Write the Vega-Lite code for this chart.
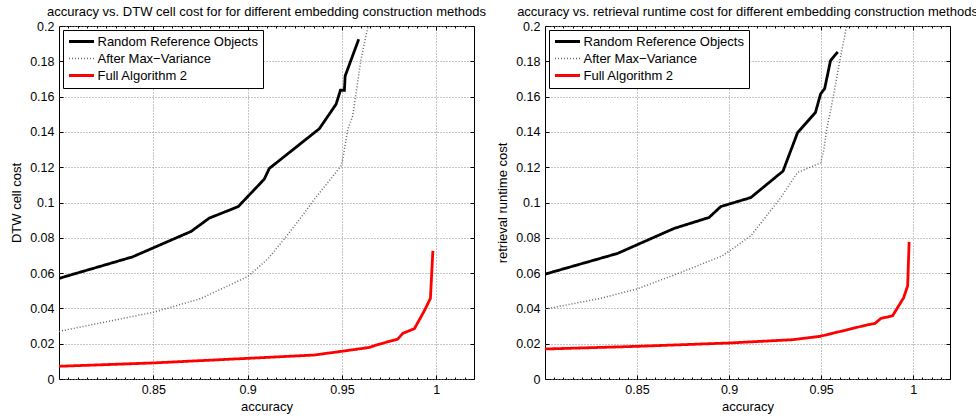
{
  "$schema": "https://vega.github.io/schema/vega-lite/v6.json",
  "padding": {"left": 10, "top": 5, "right": 0, "bottom": 0},
  "config": {
    "font": "Liberation Sans",
    "view": {"stroke": "black", "strokeWidth": 1},
    "title": {"fontSize": 13, "fontWeight": "normal", "color": "black", "offset": -1.5},
    "axis": {
      "labelFont": "Liberation Sans",
      "labelFontSize": 12.5,
      "labelColor": "black",
      "titleFontSize": 13,
      "titleFontWeight": "normal",
      "titleColor": "black",
      "tickColor": "black",
      "domain": false,
      "gridColor": "#8a8a8a",
      "gridDash": [1, 2],
      "gridWidth": 1,
      "gridOpacity": 1
    },
    "legend": {
      "orient": "top-left",
      "offset": 4,
      "strokeColor": "black",
      "fillColor": "white",
      "padding": 5,
      "labelFontSize": 13,
      "labelColor": "black",
      "labelLimit": 400,
      "symbolType": "stroke",
      "symbolSize": 625,
      "symbolOffset": 7,
      "labelOffset": 9.5,
      "rowPadding": 3
    }
  },
  "spacing": 71,
  "bounds": "flush",
  "resolve": {
    "scale": {"color": "independent", "strokeDash": "independent"},
    "legend": {"color": "independent", "strokeDash": "independent"}
  },
  "datasets": {
    "left": [
      {"series": "Random Reference Objects", "acc": 0.8, "cost": 0.057},
      {"series": "Random Reference Objects", "acc": 0.839, "cost": 0.0692},
      {"series": "Random Reference Objects", "acc": 0.87, "cost": 0.0836},
      {"series": "Random Reference Objects", "acc": 0.8796, "cost": 0.0911},
      {"series": "Random Reference Objects", "acc": 0.895, "cost": 0.0977},
      {"series": "Random Reference Objects", "acc": 0.9088, "cost": 0.1132},
      {"series": "Random Reference Objects", "acc": 0.9115, "cost": 0.1193},
      {"series": "Random Reference Objects", "acc": 0.938, "cost": 0.1418},
      {"series": "Random Reference Objects", "acc": 0.9469, "cost": 0.1557},
      {"series": "Random Reference Objects", "acc": 0.9492, "cost": 0.1636},
      {"series": "Random Reference Objects", "acc": 0.9513, "cost": 0.1636},
      {"series": "Random Reference Objects", "acc": 0.9517, "cost": 0.1717},
      {"series": "Random Reference Objects", "acc": 0.9589, "cost": 0.1925},
      {"series": "After Max−Variance", "acc": 0.8, "cost": 0.027},
      {"series": "After Max−Variance", "acc": 0.825, "cost": 0.0324},
      {"series": "After Max−Variance", "acc": 0.85, "cost": 0.0378},
      {"series": "After Max−Variance", "acc": 0.875, "cost": 0.0455},
      {"series": "After Max−Variance", "acc": 0.9, "cost": 0.058},
      {"series": "After Max−Variance", "acc": 0.9106, "cost": 0.0679},
      {"series": "After Max−Variance", "acc": 0.9194, "cost": 0.0793},
      {"series": "After Max−Variance", "acc": 0.9283, "cost": 0.0915},
      {"series": "After Max−Variance", "acc": 0.9354, "cost": 0.1019},
      {"series": "After Max−Variance", "acc": 0.9425, "cost": 0.1113},
      {"series": "After Max−Variance", "acc": 0.9495, "cost": 0.1207},
      {"series": "After Max−Variance", "acc": 0.9504, "cost": 0.1245},
      {"series": "After Max−Variance", "acc": 0.9531, "cost": 0.1415},
      {"series": "After Max−Variance", "acc": 0.9557, "cost": 0.149},
      {"series": "After Max−Variance", "acc": 0.958, "cost": 0.166},
      {"series": "After Max−Variance", "acc": 0.9601, "cost": 0.181},
      {"series": "After Max−Variance", "acc": 0.9645, "cost": 0.2035},
      {"series": "Full Algorithm 2", "acc": 0.8, "cost": 0.0072},
      {"series": "Full Algorithm 2", "acc": 0.85, "cost": 0.0091},
      {"series": "Full Algorithm 2", "acc": 0.9, "cost": 0.0117},
      {"series": "Full Algorithm 2", "acc": 0.9354, "cost": 0.0136},
      {"series": "Full Algorithm 2", "acc": 0.95, "cost": 0.0157},
      {"series": "Full Algorithm 2", "acc": 0.9646, "cost": 0.0179},
      {"series": "Full Algorithm 2", "acc": 0.968, "cost": 0.0192},
      {"series": "Full Algorithm 2", "acc": 0.9796, "cost": 0.0226},
      {"series": "Full Algorithm 2", "acc": 0.9823, "cost": 0.0259},
      {"series": "Full Algorithm 2", "acc": 0.9884, "cost": 0.0285},
      {"series": "Full Algorithm 2", "acc": 0.9937, "cost": 0.0387},
      {"series": "Full Algorithm 2", "acc": 0.9969, "cost": 0.0457},
      {"series": "Full Algorithm 2", "acc": 0.9982, "cost": 0.0726}
    ],
    "right": [
      {"series": "Random Reference Objects", "acc": 0.8, "cost": 0.0594},
      {"series": "Random Reference Objects", "acc": 0.8393, "cost": 0.0711},
      {"series": "Random Reference Objects", "acc": 0.8701, "cost": 0.0853},
      {"series": "Random Reference Objects", "acc": 0.8891, "cost": 0.0915},
      {"series": "Random Reference Objects", "acc": 0.8955, "cost": 0.0977},
      {"series": "Random Reference Objects", "acc": 0.9118, "cost": 0.1028},
      {"series": "Random Reference Objects", "acc": 0.9293, "cost": 0.1178},
      {"series": "Random Reference Objects", "acc": 0.9372, "cost": 0.1396},
      {"series": "Random Reference Objects", "acc": 0.9469, "cost": 0.151},
      {"series": "Random Reference Objects", "acc": 0.9497, "cost": 0.1615},
      {"series": "Random Reference Objects", "acc": 0.9519, "cost": 0.1645},
      {"series": "Random Reference Objects", "acc": 0.9551, "cost": 0.1804},
      {"series": "Random Reference Objects", "acc": 0.959, "cost": 0.1853},
      {"series": "After Max−Variance", "acc": 0.8, "cost": 0.0396},
      {"series": "After Max−Variance", "acc": 0.8303, "cost": 0.0457},
      {"series": "After Max−Variance", "acc": 0.85, "cost": 0.051},
      {"series": "After Max−Variance", "acc": 0.8701, "cost": 0.0589},
      {"series": "After Max−Variance", "acc": 0.8964, "cost": 0.0698},
      {"series": "After Max−Variance", "acc": 0.9118, "cost": 0.0811},
      {"series": "After Max−Variance", "acc": 0.9281, "cost": 0.1028},
      {"series": "After Max−Variance", "acc": 0.9372, "cost": 0.117},
      {"series": "After Max−Variance", "acc": 0.9498, "cost": 0.1225},
      {"series": "After Max−Variance", "acc": 0.9515, "cost": 0.13},
      {"series": "After Max−Variance", "acc": 0.953, "cost": 0.1415},
      {"series": "After Max−Variance", "acc": 0.9553, "cost": 0.1528},
      {"series": "After Max−Variance", "acc": 0.958, "cost": 0.168},
      {"series": "After Max−Variance", "acc": 0.9603, "cost": 0.1811},
      {"series": "After Max−Variance", "acc": 0.9645, "cost": 0.2035},
      {"series": "Full Algorithm 2", "acc": 0.8, "cost": 0.017},
      {"series": "Full Algorithm 2", "acc": 0.85, "cost": 0.0185},
      {"series": "Full Algorithm 2", "acc": 0.9, "cost": 0.0204},
      {"series": "Full Algorithm 2", "acc": 0.935, "cost": 0.0223},
      {"series": "Full Algorithm 2", "acc": 0.9495, "cost": 0.0242},
      {"series": "Full Algorithm 2", "acc": 0.9658, "cost": 0.0283},
      {"series": "Full Algorithm 2", "acc": 0.9739, "cost": 0.0304},
      {"series": "Full Algorithm 2", "acc": 0.9793, "cost": 0.0315},
      {"series": "Full Algorithm 2", "acc": 0.9824, "cost": 0.0343},
      {"series": "Full Algorithm 2", "acc": 0.9888, "cost": 0.0358},
      {"series": "Full Algorithm 2", "acc": 0.9948, "cost": 0.046},
      {"series": "Full Algorithm 2", "acc": 0.997, "cost": 0.0528},
      {"series": "Full Algorithm 2", "acc": 0.9978, "cost": 0.0777}
    ]
  },
  "hconcat": [
    {
      "title": "accuracy vs. DTW cell cost for for different embedding construction methods",
      "width": 415,
      "height": 353,
      "data": {"name": "left"},
      "resolve": {"axis": {"x": "independent", "y": "independent"}},
      "layer": [
        {
          "mark": {"type": "line", "clip": true},
          "encoding": {
            "x": {"field": "acc", "type": "quantitative", "scale": {"domain": [0.8, 1.02], "nice": false, "zero": false},
                  "axis": {"orient": "bottom", "values": [0.85, 0.9, 0.95, 1], "format": "~g", "title": "accuracy", "grid": true, "tickSize": -4, "labelPadding": 8, "titlePadding": 5}},
            "y": {"field": "cost", "type": "quantitative", "scale": {"domain": [0, 0.2], "nice": false},
                  "axis": {"orient": "left", "values": [0, 0.02, 0.04, 0.06, 0.08, 0.1, 0.12, 0.14, 0.16, 0.18, 0.2], "format": "~g", "title": "DTW cell cost", "grid": true, "tickSize": -4, "labelPadding": 9, "titlePadding": 6}},
            "color": {"field": "series", "type": "nominal",
                      "scale": {"domain": ["Random Reference Objects", "After Max−Variance", "Full Algorithm 2"], "range": ["#000000", "#666666", "#ff0000"]},
                      "legend": {"title": null, "symbolType": "stroke", "symbolOffset": 7, "labelOffset": 9.5, "encode": {"symbols": {"update": {"size": {"value": 625}, "strokeWidth": {"signal": "datum.value === 'After Max−Variance' ? 1.5 : 2.8"}}}}}},
            "strokeDash": {"field": "series", "type": "nominal",
                      "scale": {"domain": ["Random Reference Objects", "After Max−Variance", "Full Algorithm 2"], "range": [[1, 0], [1, 2], [1, 0]]},
                      "legend": {"title": null, "symbolType": "stroke", "symbolOffset": 7, "labelOffset": 9.5, "encode": {"symbols": {"update": {"size": {"value": 625}, "strokeWidth": {"signal": "datum.value === 'After Max−Variance' ? 1.5 : 2.8"}}}}}},
            "strokeWidth": {"condition": {"test": "datum.series === 'After Max−Variance'", "value": 1.5}, "value": 2.8}
          }
        },
        {
          "mark": {"type": "point", "opacity": 0},
          "encoding": {
            "x": {"field": "acc", "type": "quantitative", "axis": {"orient": "top", "values": [0.85, 0.9, 0.95, 1], "labels": false, "title": null, "grid": false, "tickSize": -4}},
            "y": {"field": "cost", "type": "quantitative", "axis": {"orient": "right", "values": [0, 0.02, 0.04, 0.06, 0.08, 0.1, 0.12, 0.14, 0.16, 0.18, 0.2], "labels": false, "title": null, "grid": false, "tickSize": -4}}
          }
        },
        {
          "mark": {"type": "point", "opacity": 0},
          "encoding": {
            "x": {"field": "acc", "type": "quantitative", "axis": {"orient": "bottom", "values": [0.805, 0.81, 0.815, 0.82, 0.825, 0.83, 0.835, 0.84, 0.845, 0.855, 0.86, 0.865, 0.87, 0.875, 0.88, 0.885, 0.89, 0.895, 0.905, 0.91, 0.915, 0.92, 0.925, 0.93, 0.935, 0.94, 0.945, 0.955, 0.96, 0.965, 0.97, 0.975, 0.98, 0.985, 0.99, 0.995, 1.005, 1.01, 1.015], "labels": false, "title": null, "grid": false, "tickSize": -2}},
            "y": {"field": "cost", "type": "quantitative", "axis": null}
          }
        },
        {
          "mark": {"type": "point", "opacity": 0},
          "encoding": {
            "x": {"field": "acc", "type": "quantitative", "axis": {"orient": "top", "values": [0.805, 0.81, 0.815, 0.82, 0.825, 0.83, 0.835, 0.84, 0.845, 0.855, 0.86, 0.865, 0.87, 0.875, 0.88, 0.885, 0.89, 0.895, 0.905, 0.91, 0.915, 0.92, 0.925, 0.93, 0.935, 0.94, 0.945, 0.955, 0.96, 0.965, 0.97, 0.975, 0.98, 0.985, 0.99, 0.995, 1.005, 1.01, 1.015], "labels": false, "title": null, "grid": false, "tickSize": -2}},
            "y": {"field": "cost", "type": "quantitative", "axis": null}
          }
        }
      ]
    },
    {
      "title": "accuracy vs. retrieval runtime cost for different embedding construction methods",
      "width": 405,
      "height": 353,
      "data": {"name": "right"},
      "resolve": {"axis": {"x": "independent", "y": "independent"}},
      "layer": [
        {
          "mark": {"type": "line", "clip": true},
          "encoding": {
            "x": {"field": "acc", "type": "quantitative", "scale": {"domain": [0.8, 1.02], "nice": false, "zero": false},
                  "axis": {"orient": "bottom", "values": [0.85, 0.9, 0.95, 1], "format": "~g", "title": "accuracy", "grid": true, "tickSize": -4, "labelPadding": 8, "titlePadding": 5}},
            "y": {"field": "cost", "type": "quantitative", "scale": {"domain": [0, 0.2], "nice": false},
                  "axis": {"orient": "left", "values": [0, 0.02, 0.04, 0.06, 0.08, 0.1, 0.12, 0.14, 0.16, 0.18, 0.2], "format": "~g", "title": "retrieval runtime cost", "grid": true, "tickSize": -4, "labelPadding": 9, "titlePadding": 6}},
            "color": {"field": "series", "type": "nominal",
                      "scale": {"domain": ["Random Reference Objects", "After Max−Variance", "Full Algorithm 2"], "range": ["#000000", "#666666", "#ff0000"]},
                      "legend": {"title": null, "symbolType": "stroke", "symbolOffset": 7, "labelOffset": 9.5, "encode": {"symbols": {"update": {"size": {"value": 625}, "strokeWidth": {"signal": "datum.value === 'After Max−Variance' ? 1.5 : 2.8"}}}}}},
            "strokeDash": {"field": "series", "type": "nominal",
                      "scale": {"domain": ["Random Reference Objects", "After Max−Variance", "Full Algorithm 2"], "range": [[1, 0], [1, 2], [1, 0]]},
                      "legend": {"title": null, "symbolType": "stroke", "symbolOffset": 7, "labelOffset": 9.5, "encode": {"symbols": {"update": {"size": {"value": 625}, "strokeWidth": {"signal": "datum.value === 'After Max−Variance' ? 1.5 : 2.8"}}}}}},
            "strokeWidth": {"condition": {"test": "datum.series === 'After Max−Variance'", "value": 1.5}, "value": 2.8}
          }
        },
        {
          "mark": {"type": "point", "opacity": 0},
          "encoding": {
            "x": {"field": "acc", "type": "quantitative", "axis": {"orient": "top", "values": [0.85, 0.9, 0.95, 1], "labels": false, "title": null, "grid": false, "tickSize": -4}},
            "y": {"field": "cost", "type": "quantitative", "axis": {"orient": "right", "values": [0, 0.02, 0.04, 0.06, 0.08, 0.1, 0.12, 0.14, 0.16, 0.18, 0.2], "labels": false, "title": null, "grid": false, "tickSize": -4}}
          }
        },
        {
          "mark": {"type": "point", "opacity": 0},
          "encoding": {
            "x": {"field": "acc", "type": "quantitative", "axis": {"orient": "bottom", "values": [0.805, 0.81, 0.815, 0.82, 0.825, 0.83, 0.835, 0.84, 0.845, 0.855, 0.86, 0.865, 0.87, 0.875, 0.88, 0.885, 0.89, 0.895, 0.905, 0.91, 0.915, 0.92, 0.925, 0.93, 0.935, 0.94, 0.945, 0.955, 0.96, 0.965, 0.97, 0.975, 0.98, 0.985, 0.99, 0.995, 1.005, 1.01, 1.015], "labels": false, "title": null, "grid": false, "tickSize": -2}},
            "y": {"field": "cost", "type": "quantitative", "axis": null}
          }
        },
        {
          "mark": {"type": "point", "opacity": 0},
          "encoding": {
            "x": {"field": "acc", "type": "quantitative", "axis": {"orient": "top", "values": [0.805, 0.81, 0.815, 0.82, 0.825, 0.83, 0.835, 0.84, 0.845, 0.855, 0.86, 0.865, 0.87, 0.875, 0.88, 0.885, 0.89, 0.895, 0.905, 0.91, 0.915, 0.92, 0.925, 0.93, 0.935, 0.94, 0.945, 0.955, 0.96, 0.965, 0.97, 0.975, 0.98, 0.985, 0.99, 0.995, 1.005, 1.01, 1.015], "labels": false, "title": null, "grid": false, "tickSize": -2}},
            "y": {"field": "cost", "type": "quantitative", "axis": null}
          }
        }
      ]
    }
  ]
}
